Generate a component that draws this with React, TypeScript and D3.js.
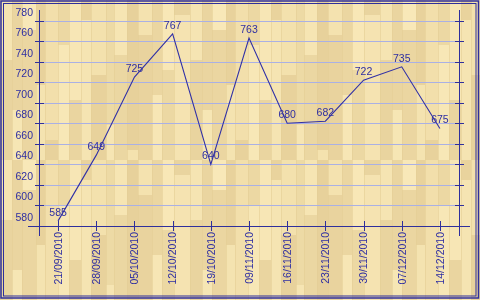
import React from "react";
import * as d3 from "d3";

const dates = ["21/09/2010","28/09/2010","05/10/2010","12/10/2010","19/10/2010","09/11/2010","16/11/2010","23/11/2010","30/11/2010","07/12/2010","14/12/2010"];
const values = [585, 649, 725, 767, 640, 763, 680, 682, 722, 735, 675];
const yTicks = [580, 600, 620, 640, 660, 680, 700, 720, 740, 760, 780];

// decorative wood texture tile (column widths, split points, shades)
const plankWidths = [12, 10, 14, 9, 13, 11, 12, 10, 15, 8, 13, 11, 14, 10, 12, 16];
const plankSplits = [60, 110, 30, 85, 140, 45, 100, 20, 75, 125, 55, 150, 35, 95, 70, 15];
const shadeA = ["#f5e4b2", "#ead5a0", "#f8e8b8", "#e8d29c", "#f2dfab", "#ecd8a3", "#f7e6b5", "#e9d39d", "#f3e1ad", "#eddaa5", "#f6e5b3", "#e7d19b", "#f4e2af", "#ebd6a1", "#f8e7b6", "#e9d49f"];
const shadeB = ["#e9d49f", "#f6e6b4", "#ebd6a1", "#f4e3b0", "#e8d29c", "#f7e7b6", "#ead5a0", "#f5e4b2", "#e8d29c", "#f6e5b3", "#ebd7a2", "#f4e2ae", "#e9d39e", "#f7e6b5", "#ecd8a3", "#f5e3b1"];

const W = 480, H = 300;
const L = 39, R = 459, B = 226;
const FONT = "'Liberation Sans', Arial, sans-serif";
const AX = "#2f2f9c";
const TXT = "#2e2ea2";

export default function App() {
  const x = d3.scalePoint<string>().domain(dates).range([L, R]).padding(0.5);
  const y = d3.scaleLinear().domain([580, 780]).range([B, 20.6]);
  const line = d3.line<number>().x((_, i) => x(dates[i])!).y((d) => y(d));

  let cx = 0;
  const planks = plankWidths.map((w, i) => {
    const r = { x: cx, w, s: plankSplits[i], a: shadeA[i], b: shadeB[i] };
    cx += w;
    return r;
  });
  const tileW = cx;

  return (
    <svg width={W} height={H} style={{ position: "fixed", left: 0, top: 0 }} fontFamily={FONT}>
      <defs>
        <pattern id="wood" patternUnits="userSpaceOnUse" width={tileW} height={160}>
          {planks.map((p, i) => (
            <g key={i}>
              <rect x={p.x} y={0} width={p.w} height={p.s} fill={p.a} />
              <rect x={p.x} y={p.s} width={p.w} height={160 - p.s} fill={p.b} />
              <line x1={p.x + 0.5} x2={p.x + 0.5} y1={0} y2={160} stroke="#e4ce96" strokeWidth={0.6} />
            </g>
          ))}
        </pattern>
      </defs>
      <rect x={0} y={0} width={W} height={H} fill="url(#wood)" />
      <rect x={1} y={1} width={477.5} height={297} fill="none" stroke={AX} strokeWidth={1.5} />
      <rect x={3.5} y={3.5} width={472.5} height={292.5} fill="none" stroke={AX} strokeWidth={1} />

      {yTicks.filter((t) => t !== 580).map((t) => (
        <line key={"g" + t} x1={L} x2={R} y1={Math.round(y(t)) + 0.5} y2={Math.round(y(t)) + 0.5} stroke="#aab0e4" strokeWidth={1} />
      ))}

      <line x1={L + 0.5} x2={L + 0.5} y1={10} y2={236} stroke={AX} />
      <line x1={R + 0.5} x2={R + 0.5} y1={10} y2={236} stroke={AX} />
      <line x1={28} x2={470} y1={B + 0.5} y2={B + 0.5} stroke={AX} />

      {yTicks.map((t) => (
        <g key={"t" + t}>
          <line x1={35} x2={44} y1={Math.round(y(t)) + 0.5} y2={Math.round(y(t)) + 0.5} stroke={AX} />
          <line x1={455} x2={464} y1={Math.round(y(t)) + 0.5} y2={Math.round(y(t)) + 0.5} stroke={AX} />
          <text x={33} y={y(t) - 5} textAnchor="end" fontSize={10.5} fill={TXT}>{t}</text>
        </g>
      ))}

      {dates.map((d) => (
        <g key={d}>
          <line x1={Math.round(x(d)!) + 0.5} x2={Math.round(x(d)!) + 0.5} y1={221} y2={231} stroke={AX} />
          <text transform={`translate(${x(d)! + 3.8},232) rotate(-90)`} textAnchor="end" fontSize={10.5} fill={TXT}>{d}</text>
        </g>
      ))}

      <path d={line(values)!} fill="none" stroke="#3030a6" strokeWidth={1.1} />

      {values.map((v, i) => (
        <text key={i} x={x(dates[i])!} y={y(v) - 5} textAnchor="middle" fontSize={10.5} fill={TXT}>{v}</text>
      ))}
    </svg>
  );
}
